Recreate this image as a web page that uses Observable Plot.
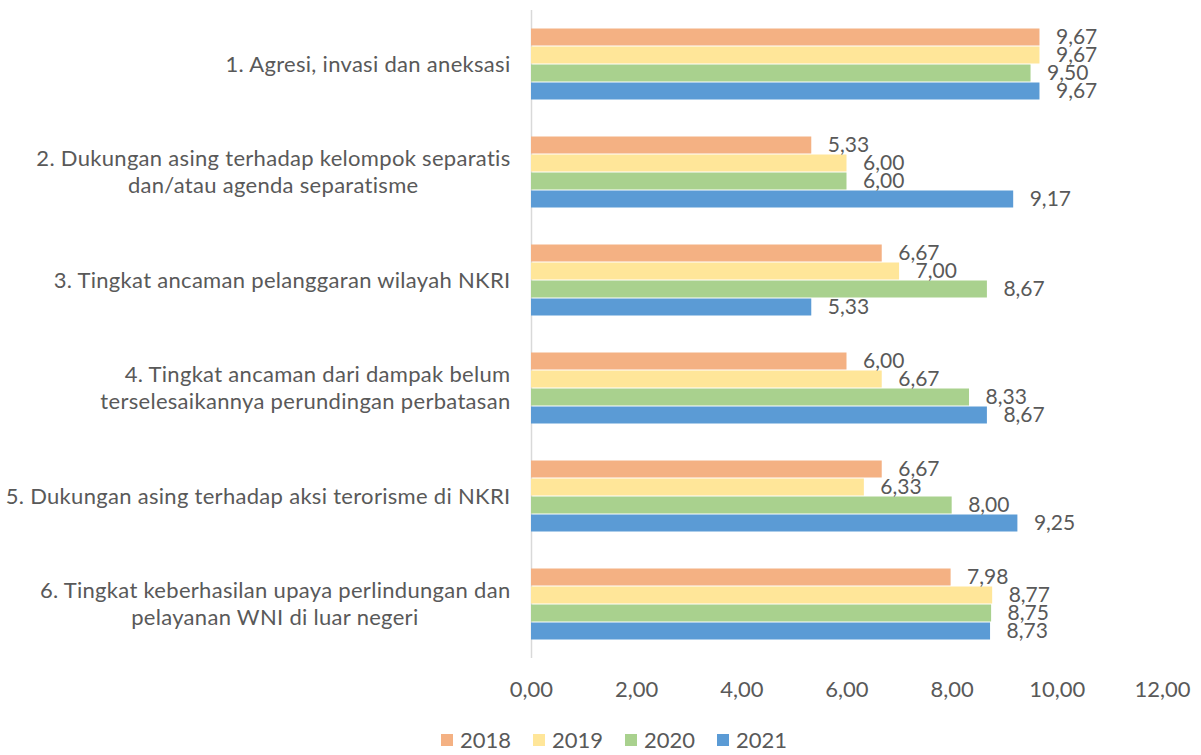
<!DOCTYPE html>
<html>
<head>
<meta charset="utf-8">
<script src="https://cdn.jsdelivr.net/npm/d3@7"></script>
<script src="https://cdn.jsdelivr.net/npm/@observablehq/plot@0.6"></script>
<style>
  html, body { margin: 0; padding: 0; background: #ffffff; }
  #chart { width: 1201px; }
  #legend { width: 1201px; display: flex; justify-content: center; margin-top: 8px; padding-left: 49px; box-sizing: border-box; }
  .catlabel text { letter-spacing: 0.3px; }
  #legend .lg-swatch { margin-right: 22px !important; }
  #legend .lg-swatch > svg { margin-right: 7px !important; }
</style>
</head>
<body>
<div id="chart"></div>
<div id="legend"></div>
<script>
const categories = [
  "1. Agresi, invasi dan aneksasi",
  "2. Dukungan asing terhadap kelompok separatis dan/atau agenda separatisme",
  "3. Tingkat ancaman pelanggaran wilayah NKRI",
  "4. Tingkat ancaman dari dampak belum terselesaikannya perundingan perbatasan",
  "5. Dukungan asing terhadap aksi terorisme di NKRI",
  "6. Tingkat keberhasilan upaya perlindungan dan pelayanan WNI di luar negeri"
];
const categoryLines = [
  ["1. Agresi, invasi dan aneksasi"],
  ["2. Dukungan asing terhadap kelompok separatis", "dan/atau agenda separatisme"],
  ["3. Tingkat ancaman pelanggaran wilayah NKRI"],
  ["4. Tingkat ancaman dari dampak belum", "terselesaikannya perundingan perbatasan"],
  ["5. Dukungan asing terhadap aksi terorisme di NKRI"],
  ["6. Tingkat keberhasilan upaya perlindungan dan", "pelayanan WNI di luar negeri"]
];
const years = ["2018", "2019", "2020", "2021"];
const yearColors = ["#F4B183", "#FFE699", "#A9D18E", "#5B9BD5"];
const values2018 = [9.67, 5.33, 6.67, 6.00, 6.67, 7.98];
const values2019 = [9.67, 6.00, 7.00, 6.67, 6.33, 8.77];
const values2020 = [9.50, 6.00, 8.67, 8.33, 8.00, 8.75];
const values2021 = [9.67, 9.17, 5.33, 8.67, 9.25, 8.73];
const xTicks = [0, 2, 4, 6, 8, 10, 12];

const series = [values2018, values2019, values2020, values2021];
const rows = [];
categories.forEach((c, i) => {
  years.forEach((y, j) => rows.push({category: c, year: y, value: series[j][i]}));
});
const labelRows = [];
categoryLines.forEach((lines, i) => {
  lines.forEach((t, k) => labelRows.push({category: categories[i], text: t, line: k, n: lines.length, idx: i}));
});
const fmt = v => v.toFixed(2).replace(".", ",");
const textColor = "#595959";
const font = "Lato, 'Open Sans', sans-serif";
const catStyle = {frameAnchor: "left", text: "text", textAnchor: "end", fill: textColor, fontSize: 22, className: "catlabel"};

const chart = Plot.plot({
  width: 1201,
  height: 715,
  marginLeft: 531,
  marginRight: 39,
  marginTop: 10,
  marginBottom: 57,
  style: {fontFamily: font, fontSize: "22px", color: textColor, background: "#ffffff"},
  x: {domain: [0, 12], ticks: xTicks, tickFormat: fmt, tickSize: 0, tickPadding: 23, label: null},
  y: {domain: years, paddingInner: 0, paddingOuter: 0.92, axis: null},
  fy: {domain: categories, padding: 0, axis: null},
  color: {domain: years, range: yearColors},
  marks: [
    Plot.ruleX([0], {stroke: "#d9d9d9", strokeWidth: 1.5}),
    Plot.barX(rows, {x: "value", y: "year", fy: "category", fill: "year", insetTop: 0.5, insetBottom: 0.5}),
    Plot.text(rows, {x: "value", y: "year", fy: "category", text: d => fmt(d.value), textAnchor: "start", dx: 16, fill: textColor, fontSize: 21}),
    Plot.text(labelRows.filter(d => d.n === 1), {...catStyle, fy: "category", dx: -21}),
    Plot.text(labelRows.filter(d => d.n === 2 && d.line === 0), {...catStyle, fy: "category", dx: -21, dy: -13.5}),
    Plot.text(labelRows.filter(d => d.n === 2 && d.line === 1 && d.idx === 3), {...catStyle, fy: "category", dx: -21, dy: 13.5}),
    Plot.text(labelRows.filter(d => d.n === 2 && d.line === 1 && d.idx !== 3), {...catStyle, fy: "category", dx: -113, dy: 13.5})
  ]
});
document.getElementById("chart").appendChild(chart);

const legend = Plot.legend({
  color: {domain: years, range: yearColors},
  legend: "swatches",
  swatchSize: 12,
  className: "lg",
  style: {fontFamily: font, fontSize: "22px", color: textColor}
});
document.getElementById("legend").appendChild(legend);
</script>
</body>
</html>
